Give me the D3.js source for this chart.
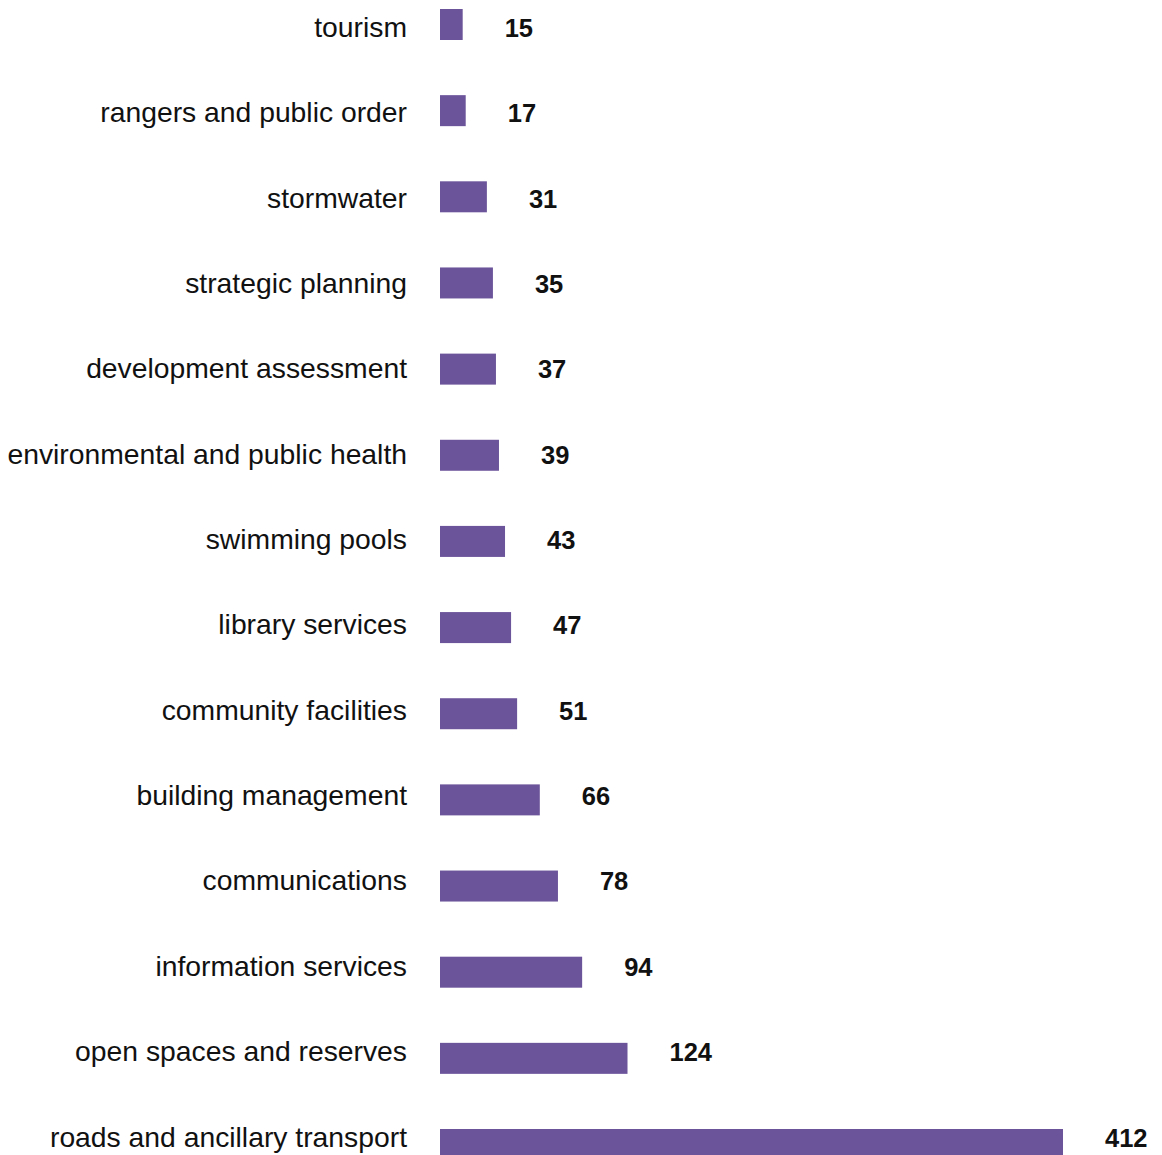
<!DOCTYPE html>
<html>
<head>
<meta charset="utf-8">
<script src="https://cdn.jsdelivr.net/npm/d3@7"></script>
<style>
  html, body { margin: 0; padding: 0; background: #fff; overflow: hidden; }
  svg { display: block; }
</style>
</head>
<body>
<svg id="chart" width="1162" height="1155"></svg>
<script>
const categories = [
  "tourism",
  "rangers and public order",
  "stormwater",
  "strategic planning",
  "development assessment",
  "environmental and public health",
  "swimming pools",
  "library services",
  "community facilities",
  "building management",
  "communications",
  "information services",
  "open spaces and reserves",
  "roads and ancillary transport"
];
const values = [15, 17, 31, 35, 37, 39, 43, 47, 51, 66, 78, 94, 124, 412];

const data = categories.map((c, i) => ({ category: c, value: values[i] }));

const svg = d3.select("#chart");

const x = d3.scaleLinear().domain([0, 412]).range([440, 1063]);
// bar centres
const y = d3.scalePoint().domain(categories).range([24.5, 1144.5]);
// text baselines (slightly tighter spacing than the bars in the original)
const yText = d3.scalePoint().domain(categories).range([37, 1146.5]);
const barH = 31;
const font = "'Liberation Sans', Arial, Helvetica, sans-serif";

const rows = svg.selectAll("g.row").data(data).join("g").attr("class", "row");

rows.append("rect")
  .attr("x", x(0))
  .attr("y", d => y(d.category) - barH / 2)
  .attr("width", d => x(d.value) - x(0))
  .attr("height", barH)
  .attr("fill", "#6b549a");

rows.append("text")
  .attr("x", 407)
  .attr("y", d => yText(d.category))
  .attr("text-anchor", "end")
  .attr("font-family", font)
  .attr("font-size", 28.3)
  .attr("fill", "#111")
  .text(d => d.category);

rows.append("text")
  .attr("x", d => x(d.value) + 42)
  .attr("y", d => yText(d.category))
  .attr("text-anchor", "start")
  .attr("font-family", font)
  .attr("font-size", 25.5)
  .attr("font-weight", "bold")
  .attr("fill", "#111")
  .text(d => d.value);
</script>
</body>
</html>
